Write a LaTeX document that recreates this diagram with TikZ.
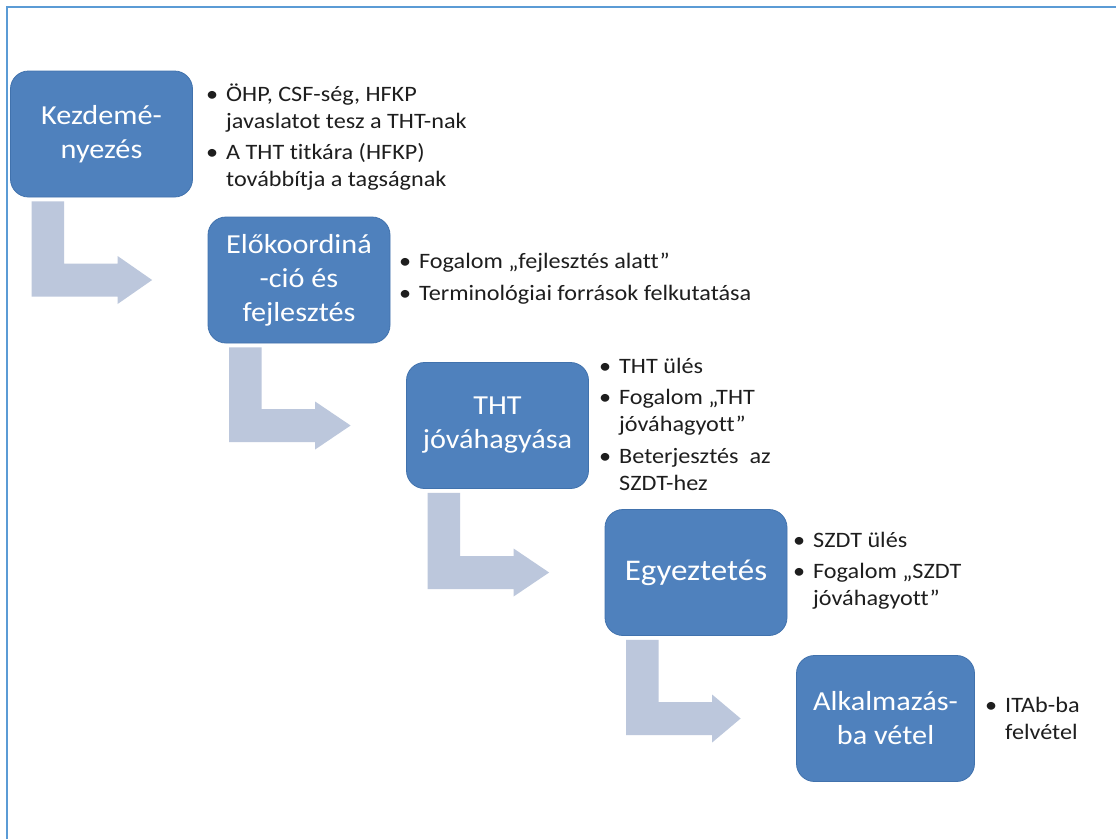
\documentclass[tikz,border=0pt]{standalone}
\usepackage{fontspec}
\setmainfont{Carlito}[FakeStretch=1.1,Ligatures=NoCommon]
\usetikzlibrary{calc}
\definecolor{boxblue}{HTML}{4F81BD}
\definecolor{boxline}{HTML}{4172AD}
\definecolor{arrowc}{HTML}{BCC7DC}
\definecolor{framec}{HTML}{5B9BD5}
\definecolor{txt}{HTML}{1E1E1E}
\newenvironment{blist}{\begin{tabular}[t]{@{}p{20pt}@{}l@{}}}{\end{tabular}}
\tikzset{
  stepbox/.style={rectangle, rounded corners=18pt, fill=boxblue, draw=boxline, line width=0.8pt,
    minimum width=182pt, minimum height=126pt, inner sep=0pt, align=center, text=white,
    font=\fontsize{27.5}{34}\selectfont},
  bullets/.style={anchor=base west, inner sep=0pt, text=txt,
    font=\fontsize{22}{27}\selectfont},
  bentarrow/.style={fill=arrowc, draw=none}
}
\newcommand{\bent}[2]{%
  \fill[bentarrow] let \p1=(#1.south west), \p2=(#2.west) in
    (\x1+21.5pt,\y1-4pt) -- (\x1+54pt,\y1-4pt) -- (\x1+54pt,\y2+16.5pt)
    -- (\x1+107.5pt,\y2+16.5pt) -- (\x1+107.5pt,\y2+24pt) -- (\x2-55.5pt,\y2)
    -- (\x1+107.5pt,\y2-24pt) -- (\x1+107.5pt,\y2-16.5pt) -- (\x1+21.5pt,\y2-16.5pt) -- cycle;}
\begin{document}
\begin{tikzpicture}[x=1pt,y=-1pt]
\useasboundingbox (0,0) rectangle (1116,839);
\fill[white] (0,0) rectangle (1116,839);
\draw[framec, line width=2pt] (7,839) -- (7,7) -- (1116,7);

\node[stepbox] (b1) at (101.5,134) {Kezdemé-\\nyezés};
\node[stepbox] (b2) at (299,280) {Előkoordiná\\-ció és\\fejlesztés};
\node[stepbox] (b3) at (497.5,425.5) {THT\\jóváhagyása};
\node[stepbox, font=\fontsize{30}{36}\selectfont] (b4) at (696,572.5) {Egyeztetés};
\node[stepbox, minimum width=178pt] (b5) at (885.5,718.5) {Alkalmazás-\\ba vétel};

\bent{b1}{b2}
\bent{b2}{b3}
\bent{b3}{b4}
\bent{b4}{b5}

\node[bullets] (t1) at (206,101) {\begin{blist}
  \textbullet & ÖHP, CSF-ség, HFKP\\
              & javaslatot tesz a THT-nak\\[4pt]
  \textbullet & A THT titkára (HFKP)\\
              & továbbítja a tagságnak
\end{blist}};
\node[bullets] (t2) at (399,268) {\begin{blist}
  \textbullet & Fogalom „fejlesztés alatt”\\[5pt]
  \textbullet & Terminológiai források felkutatása
\end{blist}};
\node[bullets] (t3) at (599,373) {\begin{blist}
  \textbullet & THT ülés\\[4pt]
  \textbullet & Fogalom „THT\\
              & jóváhagyott”\\[5pt]
  \textbullet & Beterjesztés\ \ az\\
              & SZDT-hez
\end{blist}};
\node[bullets] (t4) at (793,547) {\begin{blist}
  \textbullet & SZDT ülés\\[4pt]
  \textbullet & Fogalom „SZDT\\
              & jóváhagyott”
\end{blist}};
\node[bullets] (t5) at (985,712) {\begin{blist}
  \textbullet & ITAb-ba\\
              & felvétel
\end{blist}};
\end{tikzpicture}
\end{document}
